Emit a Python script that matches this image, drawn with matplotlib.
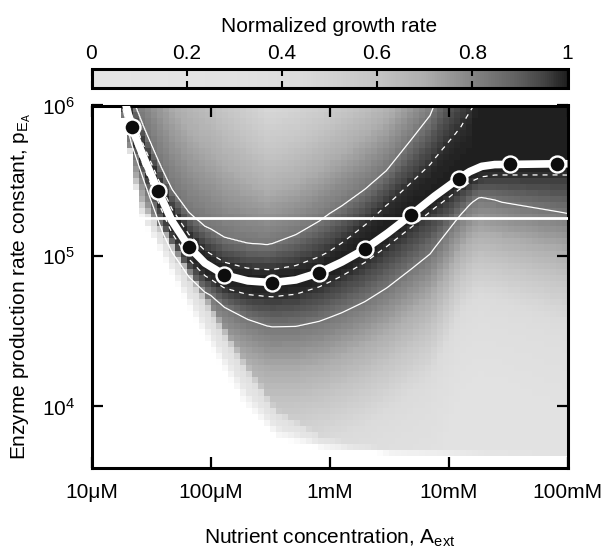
import numpy as np
import matplotlib
matplotlib.use("Agg")
import matplotlib.pyplot as plt
from matplotlib.colors import LinearSegmentedColormap, Normalize
from matplotlib.cm import ScalarMappable

plt.rcParams['font.family'] = ['Liberation Sans', 'DejaVu Sans']
plt.rcParams['mathtext.fontset'] = 'custom'
plt.rcParams['mathtext.rm'] = 'Liberation Sans'
plt.rcParams['mathtext.it'] = 'Liberation Sans:italic'
plt.rcParams['mathtext.bf'] = 'Liberation Sans:bold'

# ---------------- data ----------------
# optimal enzyme production rate (circles)
marker_A = [2.17e-5, 3.64e-5, 6.59e-5, 1.31e-4, 3.30e-4, 8.18e-4,
            1.98e-3, 4.88e-3, 1.22e-2, 3.31e-2, 8.18e-2]
marker_p = [7.25e5, 2.70e5, 1.15e5, 7.48e4, 6.65e4, 7.75e4,
            1.11e5, 1.88e5, 3.27e5, 4.06e5, 4.10e5]

# optimal curve (thick white line)
opt_A = [1.67e-5, 1.95e-5, 2.17e-5, 2.76e-5, 3.64e-5, 4.74e-5, 6.59e-5,
         8.97e-5, 1.31e-4, 2.06e-4, 3.30e-4, 5.21e-4, 8.18e-4, 1.27e-3,
         1.98e-3, 3.08e-3, 4.88e-3, 7.65e-3, 1.22e-2, 1.51e-2, 1.90e-2,
         2.44e-2, 3.31e-2, 8.18e-2, 1.0e-1]
opt_p = [1.6e6, 1.0e6, 7.25e5, 4.48e5, 2.70e5, 1.71e5, 1.15e5,
         8.97e4, 7.48e4, 6.83e4, 6.65e4, 6.93e4, 7.75e4, 9.12e4,
         1.11e5, 1.42e5, 1.88e5, 2.50e5, 3.27e5, 3.64e5, 3.94e5,
         4.05e5, 4.06e5, 4.10e5, 4.10e5]

# fixed enzyme production rate (horizontal white line)
fixed_p = 1.78e5
fixed_A = [2.46e-5, 1.0e-1]

# distance (decades of p) from the optimum to the growth-rate contours
off_A = [2e-5, 4e-5, 1e-4, 3e-4, 1e-3, 3e-3, 7e-3, 1.25e-2, 1.6e-2, 1.8e-2, 2.8e-2, 1e-1]
up_dash = [0.08, 0.08, 0.085, 0.085, 0.11, 0.19, 0.235, 0.33, 0.42, 1.5, 2.5, 2.5]
up_solid = [0.20, 0.20, 0.25, 0.25, 0.36, 0.42, 0.56, 0.90, 1.2, 3.0, 4.0, 4.0]
up_fall = [0.50, 0.50, 0.45, 0.30, 0.30, 0.30, 0.30, 0.40, 0.50, 0.50, 0.50, 0.50]
lo_dash = [0.05, 0.08, 0.085, 0.095, 0.095, 0.085, 0.08, 0.075, 0.07, 0.07, 0.07, 0.075]
lo_solid = [0.10, 0.21, 0.19, 0.29, 0.33, 0.36, 0.36, 0.25, 0.21, 0.20, 0.25, 0.33]
lo_fall = [0.10, 0.15, 0.20, 0.25, 0.25, 0.25, 0.25, 0.20, 0.20, 0.20, 0.20, 0.22]
level_dash = 0.975
level_solid = 0.835

# growth rate profile across the ridge (t=1 dashed contour, t=2 solid contour)
prof_t = [0, 0.5, 1, 1.5, 2, 3, 4, 5, 6, 8]
prof_g = [1.0, 0.993, 0.975, 0.915, 0.835, 0.72, 0.60, 0.47, 0.38, 0.30]

# edge of the region with growth (white below / left of it)
edge_A = [1.5e-5, 1.80e-5, 2.55e-5, 4.14e-5, 8.15e-5, 1.95e-4, 3.61e-4, 8.79e-4, 3.21e-3, 1e-1]
edge_p = [1.5e6, 9.9e5, 1.85e5, 9.4e4, 3.22e4, 1.01e4, 6.08e3, 5.22e3, 4.83e3, 4.69e3]
edge_fade = [0.02, 0.03, 0.10, 0.20, 0.30, 0.30, 0.20, 0.08, 0.03, 0.02]

# colour scale (value -> grey level)
cb_vals = [0.0, 0.3, 0.44, 0.6, 0.7, 0.8, 0.9, 0.95, 1.0]
cb_grey = [0.90, 0.885, 0.86, 0.77, 0.68, 0.52, 0.37, 0.27, 0.12]
white_val = -0.4

xtick_vals = [1e-5, 1e-4, 1e-3, 1e-2, 1e-1]
xtick_labels = ['10μM', '100μM', '1mM', '10mM', '100mM']
ytick_vals = [1e4, 1e5, 1e6]
ytick_labels = ['$10^{4}$', '$10^{5}$', '$10^{6}$']
cb_ticks = [0, 0.2, 0.4, 0.6, 0.8, 1.0]
cb_labels = ['0', '0.2', '0.4', '0.6', '0.8', '1']

# ---------------- field model ----------------
lu_opt, lv_opt = np.log10(opt_A), np.log10(opt_p)
lu_off = np.log10(off_A)
lu_e, lv_e = np.log10(edge_A), np.log10(edge_p)


def growth(u, v):
    v0 = np.interp(u, lu_opt, lv_opt)
    d = v - v0
    up = d >= 0
    dash = np.where(up, np.interp(u, lu_off, up_dash), np.interp(u, lu_off, lo_dash))
    sol = np.where(up, np.interp(u, lu_off, up_solid), np.interp(u, lu_off, lo_solid))
    fall = np.where(up, np.interp(u, lu_off, up_fall), np.interp(u, lu_off, lo_fall))
    a = np.abs(d)
    t = np.where(a <= dash, a / dash,
                 np.where(a <= sol, 1 + (a - dash) / (sol - dash),
                          2 + (a - sol) / fall))
    g = np.interp(t, prof_t, prof_g)
    h = v - np.interp(u, lu_e, lv_e)
    return g, h


def shaded(u, v):
    g, h = growth(u, v)
    fw = np.interp(u, lu_e, edge_fade)
    w = np.clip(h / fw, 0, 1)
    return np.where(h < 0, white_val, g * w + white_val * (1 - w))


xmin, xmax = 1e-5, 1e-1
ymin, ymax = 3.9e3, 1e6

ue = np.linspace(np.log10(xmin), np.log10(xmax), 81)
ve = np.linspace(np.log10(ymin), np.log10(ymax), 61)
uc = 0.5 * (ue[1:] + ue[:-1])
vc = 0.5 * (ve[1:] + ve[:-1])
UC, VC = np.meshgrid(uc, vc)
C = shaded(UC, VC)

uf = np.linspace(np.log10(xmin), np.log10(xmax), 500)
vf = np.linspace(np.log10(ymin), np.log10(ymax), 400)
UF, VF = np.meshgrid(uf, vf)
GF, HF = growth(UF, VF)
GF = np.where(HF < 0, np.nan, GF)

# colormaps
full_pos = [(val - white_val) / (1 - white_val) for val in [white_val] + cb_vals]
full_grey = [1.0] + cb_grey
full_cmap = LinearSegmentedColormap.from_list(
    'full', [(p, (gg, gg, gg)) for p, gg in zip(full_pos, full_grey)])
bar_cmap = LinearSegmentedColormap.from_list(
    'bar', [(p, (gg, gg, gg)) for p, gg in zip(cb_vals, cb_grey)])

# ---------------- figure ----------------
W, H = 604, 553
fig = plt.figure(figsize=(W / 100, H / 100), dpi=100)
ax = fig.add_axes([91.5 / W, 1 - 468 / H, 476 / W, 362.5 / H])
cax = fig.add_axes([91.5 / W, 1 - 88 / H, 476 / W, 19 / H])

ax.pcolormesh(10 ** ue, 10 ** ve, C, cmap=full_cmap,
              norm=Normalize(white_val, 1.0), shading='flat', rasterized=True)
ax.contour(10 ** UF, 10 ** VF, GF, levels=[level_solid], colors='white',
           linewidths=0.9, linestyles='solid')
ax.contour(10 ** UF, 10 ** VF, GF, levels=[level_dash], colors='white',
           linewidths=0.9, linestyles=[(0, (4, 4))])

ax.plot(fixed_A, [fixed_p, fixed_p], color='white', lw=2.0, zorder=4)
ax.plot(opt_A, opt_p, color='white', lw=5.5, solid_capstyle='butt',
        solid_joinstyle='round', zorder=5)
ax.plot(marker_A, marker_p, linestyle='none', marker='o', markersize=11.5,
        markerfacecolor='#0d0d0d', markeredgecolor='white', markeredgewidth=1.7,
        zorder=6)

ax.set_xscale('log')
ax.set_yscale('log')
ax.set_xlim(xmin, xmax)
ax.set_ylim(ymin, ymax)
ax.set_xticks(xtick_vals)
ax.set_xticklabels(xtick_labels)
ax.set_yticks(ytick_vals)
ax.set_yticklabels(ytick_labels)
ax.minorticks_off()
ax.tick_params(which='major', direction='in', top=True, right=True,
               length=8, width=1.6, labelsize=15, color='black')
ax.tick_params(axis='x', pad=11)
ax.tick_params(axis='y', pad=12)
for sp in ax.spines.values():
    sp.set_linewidth(2.2)

ax.set_xlabel(r'Nutrient concentration, $\mathrm{A_{ext}}$', fontsize=15)
ax.set_ylabel(r'Enzyme production rate constant, $\mathrm{p_{E_A}}$', fontsize=15)
ax.xaxis.set_label_coords(0.5, -0.163)
ax.yaxis.set_label_coords(-0.123, 0.5)

cb = fig.colorbar(ScalarMappable(norm=Normalize(0, 1), cmap=bar_cmap),
                  cax=cax, orientation='horizontal', ticks=cb_ticks)
cb.set_ticklabels(cb_labels)
cax.xaxis.set_ticks_position('both')
cax.xaxis.set_label_position('top')
cax.tick_params(direction='in', top=True, bottom=True, labeltop=True,
                labelbottom=False, length=5, width=1.5, labelsize=15, pad=4,
                color='black')
cb.outline.set_linewidth(2.2)
cax.set_xlabel('Normalized growth rate', fontsize=15, labelpad=9)

fig.savefig('out.png', dpi=100)
